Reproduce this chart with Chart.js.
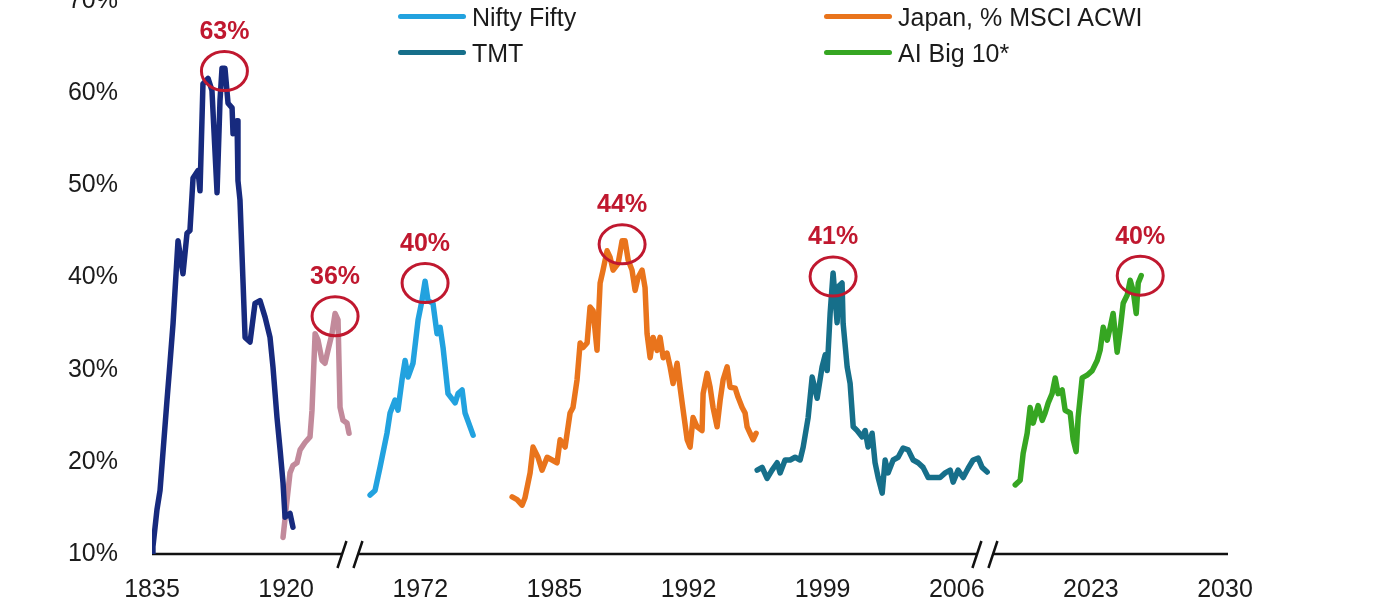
<!DOCTYPE html>
<html>
<head>
<meta charset="utf-8">
<script src="https://cdn.jsdelivr.net/npm/chart.js@4.4.1/dist/chart.umd.min.js"></script>
<style>
  html, body { margin: 0; padding: 0; background: #fff; }
  #wrap { position: relative; width: 1400px; height: 600px; overflow: hidden; }
  #box { position: absolute; left: 0; top: -40px; width: 1400px; height: 640px; }
  .leg { position: absolute; font: 25px "Liberation Sans", Arial, sans-serif; color: #1b1b1b; white-space: nowrap; line-height: 30px; }
  .leg span { position: absolute; top: 12px; height: 5px; width: 68px; border-radius: 3px; }
</style>
</head>
<body>
<div id="wrap">
  <div id="box"><canvas id="chart" width="1400" height="640"></canvas></div>
  <div id="legend"></div>
</div>
<script>
// x axis is broken, so the x values are positions on the label slots (0 = 1835 ... 8 = 2030)
const yearLabels = ["1835", "1920", "1972", "1985", "1992", "1999", "2006", "2023", "2030"];
const axisBreaks = [1.476, 6.21];

const railX = [0.000, 0.007, 0.037, 0.060, 0.112, 0.134, 0.157, 0.194, 0.231, 0.261, 0.283, 0.306, 0.343, 0.358, 0.380, 0.418, 0.447, 0.485, 0.507, 0.522, 0.544, 0.567, 0.597, 0.604, 0.634, 0.641, 0.656, 0.679, 0.694, 0.731, 0.768, 0.805, 0.843, 0.880, 0.902, 0.932, 0.955, 0.977, 0.992, 1.029, 1.051];
const railY = [10.0, 10.8, 14.8, 16.9, 26.7, 30.7, 35.0, 44.0, 40.4, 44.8, 45.1, 50.8, 51.6, 49.4, 61.0, 61.6, 60.3, 49.2, 59.2, 62.7, 62.7, 58.9, 58.4, 55.6, 57.0, 50.5, 48.4, 39.4, 33.5, 33.0, 37.2, 37.5, 35.7, 33.5, 30.3, 24.8, 21.3, 17.7, 14.0, 14.4, 12.9];

const usX = [0.977, 1.007, 1.029, 1.051, 1.081, 1.104, 1.141, 1.178, 1.193, 1.216, 1.238, 1.268, 1.290, 1.312, 1.342, 1.365, 1.387, 1.402, 1.424, 1.454, 1.469];
const usY = [11.8, 15.9, 18.8, 19.6, 19.9, 21.3, 22.1, 22.7, 25.6, 33.9, 33.2, 31.0, 30.7, 32.1, 33.9, 36.1, 35.4, 25.9, 24.5, 24.2, 23.1];

const niftyX = [1.626, 1.663, 1.700, 1.752, 1.775, 1.812, 1.834, 1.864, 1.887, 1.909, 1.946, 1.984, 2.013, 2.036, 2.058, 2.095, 2.125, 2.148, 2.170, 2.207, 2.260, 2.282, 2.312, 2.334, 2.394];
const niftyY = [16.4, 16.9, 19.4, 23.1, 25.3, 26.7, 25.6, 28.9, 31.0, 29.2, 30.7, 35.4, 37.5, 39.6, 37.5, 37.2, 33.9, 34.6, 32.4, 27.4, 26.4, 27.4, 27.8, 25.3, 22.9];

const japanX = [2.685, 2.722, 2.759, 2.781, 2.819, 2.841, 2.878, 2.908, 2.946, 2.983, 3.020, 3.043, 3.080, 3.117, 3.139, 3.169, 3.192, 3.214, 3.244, 3.266, 3.289, 3.318, 3.341, 3.363, 3.393, 3.415, 3.438, 3.475, 3.505, 3.527, 3.550, 3.579, 3.602, 3.624, 3.654, 3.676, 3.691, 3.714, 3.736, 3.766, 3.788, 3.811, 3.840, 3.863, 3.885, 3.915, 3.937, 3.960, 3.990, 4.012, 4.034, 4.064, 4.101, 4.109, 4.139, 4.161, 4.183, 4.213, 4.236, 4.258, 4.288, 4.310, 4.348, 4.370, 4.400, 4.422, 4.437, 4.459, 4.482, 4.504];
const japanY = [16.2, 15.9, 15.3, 16.1, 18.8, 21.6, 20.5, 19.1, 20.5, 20.2, 19.9, 22.4, 21.6, 25.3, 25.9, 28.9, 32.9, 32.4, 32.9, 36.8, 36.4, 32.1, 39.4, 40.8, 42.9, 42.2, 40.8, 41.5, 44.0, 44.0, 41.9, 40.8, 38.6, 40.0, 40.8, 38.9, 33.9, 31.3, 33.5, 32.1, 33.5, 31.3, 31.8, 30.3, 28.5, 30.7, 28.1, 25.6, 22.4, 21.6, 24.8, 23.8, 23.4, 27.4, 29.6, 28.1, 25.9, 23.8, 26.7, 28.9, 30.3, 28.1, 28.0, 27.0, 25.9, 25.3, 23.8, 23.1, 22.4, 23.1];

const tmtX = [4.512, 4.549, 4.586, 4.623, 4.661, 4.683, 4.720, 4.758, 4.795, 4.832, 4.855, 4.892, 4.922, 4.959, 4.996, 5.019, 5.034, 5.056, 5.078, 5.108, 5.123, 5.145, 5.153, 5.183, 5.205, 5.228, 5.257, 5.295, 5.317, 5.339, 5.369, 5.391, 5.414, 5.444, 5.466, 5.488, 5.526, 5.563, 5.600, 5.638, 5.675, 5.712, 5.749, 5.787, 5.824, 5.876, 5.914, 5.951, 5.973, 6.010, 6.048, 6.085, 6.122, 6.160, 6.189, 6.227];
const tmtY = [19.1, 19.4, 18.2, 19.1, 19.9, 18.8, 20.2, 20.2, 20.5, 20.2, 21.6, 24.8, 29.2, 26.9, 30.3, 31.6, 29.9, 36.1, 40.5, 35.1, 39.1, 39.4, 35.0, 30.3, 28.5, 23.8, 23.4, 22.7, 23.4, 21.6, 23.1, 19.9, 18.3, 16.6, 20.2, 18.8, 20.2, 20.5, 21.5, 21.3, 20.2, 19.9, 19.4, 18.3, 18.3, 18.3, 18.8, 19.1, 17.8, 19.1, 18.3, 19.3, 20.2, 20.4, 19.4, 18.9];

const aiX = [6.436, 6.473, 6.495, 6.525, 6.547, 6.570, 6.607, 6.637, 6.659, 6.682, 6.711, 6.734, 6.756, 6.786, 6.808, 6.846, 6.868, 6.890, 6.905, 6.935, 6.972, 7.010, 7.047, 7.069, 7.092, 7.122, 7.144, 7.166, 7.196, 7.218, 7.241, 7.271, 7.293, 7.315, 7.338, 7.353, 7.375];
const aiY = [17.5, 18.0, 20.9, 23.1, 25.9, 24.2, 26.1, 24.5, 25.3, 26.4, 27.4, 29.1, 27.4, 27.8, 25.6, 25.3, 22.4, 21.1, 24.8, 29.1, 29.4, 29.9, 31.0, 32.1, 34.6, 33.2, 34.6, 36.1, 31.9, 34.3, 37.2, 38.1, 39.7, 38.6, 36.1, 39.4, 40.2];

// peak call-outs
const peakX = [0.540, 1.365, 2.036, 3.505, 5.078, 7.368];
const peakY = [62.4, 35.8, 39.4, 43.6, 40.1, 40.2];
const peakText = ["63%", "36%", "40%", "44%", "41%", "40%"];

const series = [
  { name: "UK railways", x: railX, y: railY, color: "#172a7e" },
  { name: "US 1929", x: usX, y: usY, color: "#c28a9b" },
  { name: "Nifty Fifty", x: niftyX, y: niftyY, color: "#22a2df", leg: [398, 2] },
  { name: "Japan, % MSCI ACWI", x: japanX, y: japanY, color: "#e9741c", leg: [824, 2] },
  { name: "TMT", x: tmtX, y: tmtY, color: "#166f8a", leg: [398, 38] },
  { name: "AI Big 10*", x: aiX, y: aiY, color: "#36a622", leg: [824, 38] }
];

const font = { family: '"Liberation Sans", Arial, sans-serif', size: 25 };
const red = "#c0182f";

const legendEl = document.getElementById("legend");
series.filter(s => s.leg).forEach(s => {
  const d = document.createElement("div");
  d.className = "leg";
  d.style.left = s.leg[0] + "px";
  d.style.top = s.leg[1] + "px";
  d.style.paddingLeft = "74px";
  d.innerHTML = '<span style="left:0;background:' + s.color + '"></span>' + s.name;
  legendEl.appendChild(d);
});

const extras = {
  id: "extras",
  beforeDatasetsDraw(chart) {
    const { ctx, chartArea, scales } = chart;
    const y0 = scales.y.getPixelForValue(10);
    ctx.save();
    ctx.strokeStyle = "#111";
    ctx.lineWidth = 2.5;
    let start = chartArea.left;
    axisBreaks.forEach(b => {
      const bx = scales.x.getPixelForValue(b);
      ctx.beginPath();
      ctx.moveTo(start, y0);
      ctx.lineTo(bx - 8, y0);
      ctx.stroke();
      [-8, 8].forEach(o => {
        ctx.beginPath();
        ctx.moveTo(bx + o - 4.5, y0 + 14);
        ctx.lineTo(bx + o + 4.5, y0 - 13);
        ctx.stroke();
      });
      start = bx + 8;
    });
    ctx.beginPath();
    ctx.moveTo(start, y0);
    ctx.lineTo(chartArea.right + 3, y0);
    ctx.stroke();
    ctx.restore();
  },
  afterDatasetsDraw(chart) {
    const { ctx, scales } = chart;
    ctx.save();
    ctx.strokeStyle = red;
    ctx.fillStyle = red;
    ctx.lineWidth = 3;
    ctx.font = 'bold 25px "Liberation Sans", Arial, sans-serif';
    ctx.textAlign = "center";
    ctx.textBaseline = "middle";
    peakX.forEach((px, i) => {
      const cx = scales.x.getPixelForValue(px);
      const cy = scales.y.getPixelForValue(peakY[i]);
      ctx.beginPath();
      ctx.ellipse(cx, cy, 23, 19.5, 0, 0, Math.PI * 2);
      ctx.stroke();
      ctx.fillText(peakText[i], cx, cy - 39);
    });
    ctx.restore();
  }
};

new Chart(document.getElementById("chart"), {
  type: "line",
  data: {
    datasets: series.map(s => ({
      label: s.name,
      data: s.x.map((x, i) => ({ x: x, y: s.y[i] })),
      borderColor: s.color,
      borderWidth: 5.5,
      pointRadius: 0,
      tension: 0,
      borderJoinStyle: "round",
      borderCapStyle: "round"
    }))
  },
  options: {
    responsive: false,
    animation: false,
    layout: { padding: { top: 41, right: 175, left: 0, bottom: 0 } },
    plugins: { legend: { display: false }, tooltip: { enabled: false } },
    scales: {
      x: {
        type: "linear", min: 0, max: 8,
        border: { display: false },
        grid: { display: false, drawTicks: false },
        ticks: { stepSize: 1, autoSkip: false, maxRotation: 0, padding: 21, color: "#1b1b1b", font: font,
          callback: v => yearLabels[v] },
        afterFit: s => { s.height = 46; }
      },
      y: {
        min: 10, max: 70,
        border: { display: false },
        grid: { display: false, drawTicks: true, tickLength: 34 },
        ticks: { stepSize: 10, padding: 0, color: "#1b1b1b", font: font, callback: v => v + "%" },
        afterFit: s => { s.width = 152; }
      }
    }
  },
  plugins: [extras]
});
</script>
</body>
</html>
